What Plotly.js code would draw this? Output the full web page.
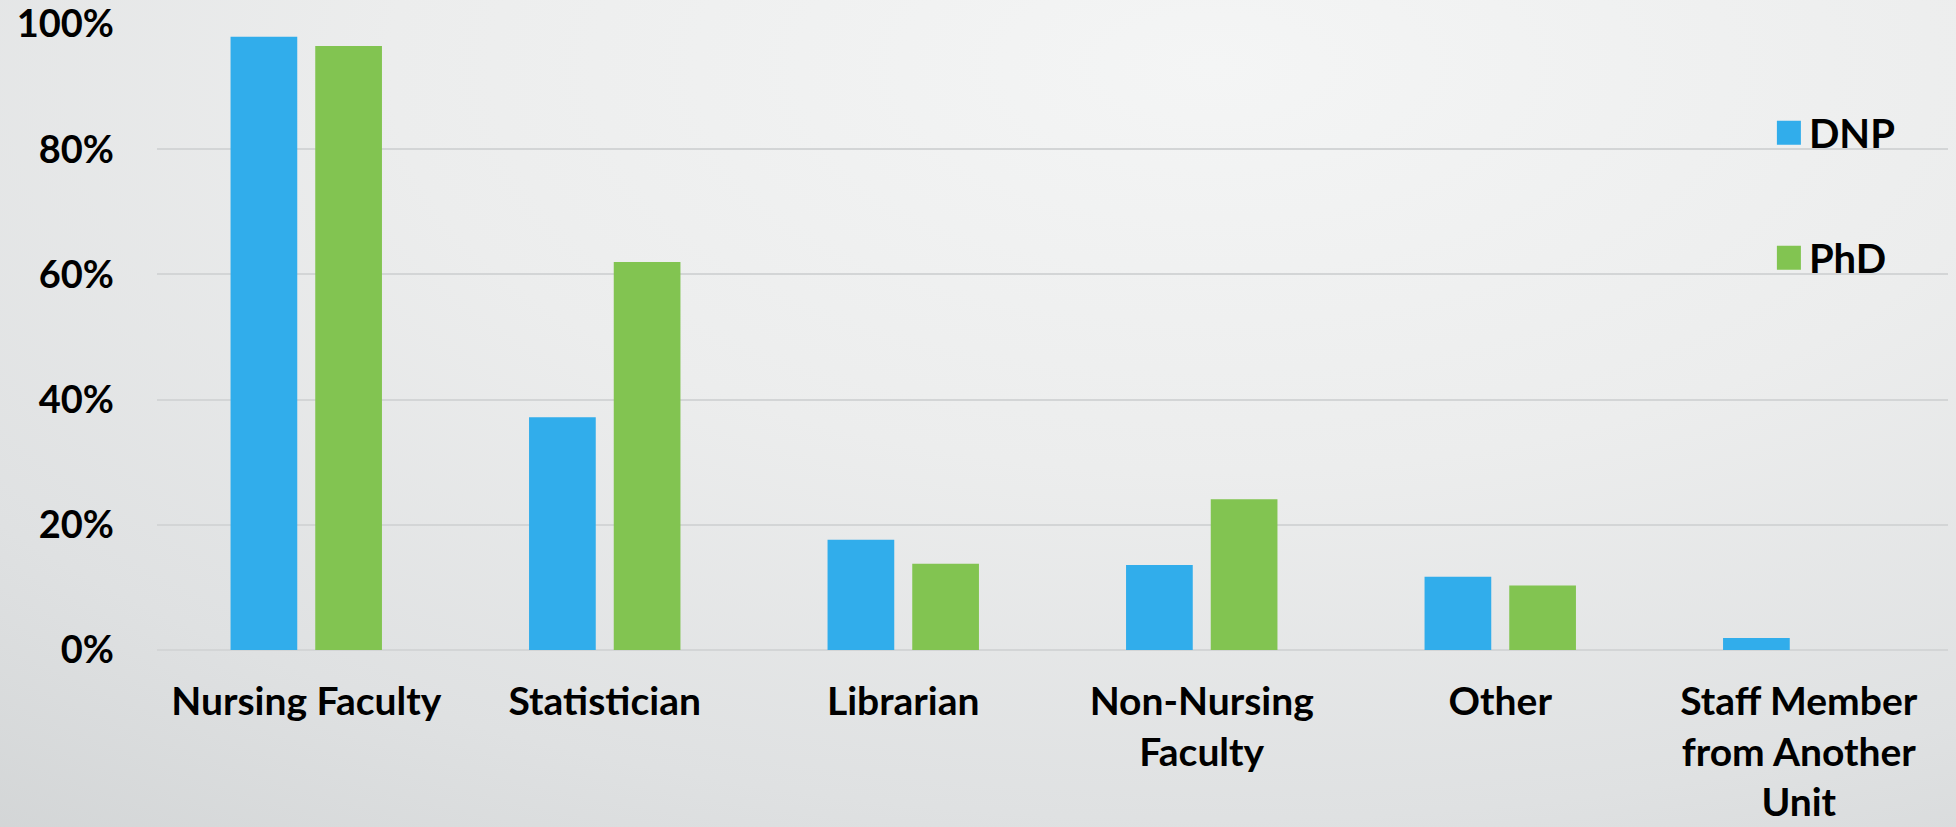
<!DOCTYPE html>
<html>
<head>
<meta charset="utf-8">
<script src="https://cdn.plot.ly/plotly-3.0.1.min.js"></script>
<style>
  html, body { margin: 0; padding: 0; width: 1956px; height: 827px; overflow: hidden; }
  body { background: radial-gradient(ellipse 120% 140% at 62% 8%, #f4f5f5 0%, #eceded 35%, #dfe1e2 65%, #c9cccd 100%); }
  #chart { width: 1956px; height: 827px; }
</style>
</head>
<body>
<div id="chart"></div>
<script>
// Categories (x axis tick labels)
const categories = [
  "Nursing Faculty",
  "Statistician",
  "Librarian",
  "Non-Nursing<br>Faculty",
  "Other",
  "Staff Member<br>from Another<br>Unit"
];
// Series names
const seriesNames = ["DNP", "PhD"];
// Series values (percent)
const dnpValues = [98.0, 37.2, 17.6, 13.6, 11.7, 1.9];
const phdValues = [96.5, 62.0, 13.8, 24.1, 10.3, 0];
// Y ticks
const yTicks = [0, 20, 40, 60, 80, 100];
const yTickLabels = ["0%", "20%", "40%", "60%", "80%", "100%"];

const colors = ["#31ADEB", "#82C451"];
const FONT = "Lato, 'Open Sans', sans-serif";

const traces = [
  { type: "bar", name: seriesNames[0], x: categories, y: dnpValues,
    marker: { color: colors[0] }, legendgroup: "a", hoverinfo: "skip" },
  { type: "bar", name: seriesNames[1], x: categories, y: phdValues,
    marker: { color: colors[1] }, legendgroup: "b", hoverinfo: "skip" }
];

const layout = {
  width: 1956, height: 827,
  paper_bgcolor: "rgba(0,0,0,0)",
  plot_bgcolor: "rgba(0,0,0,0)",
  margin: { l: 157, r: 8, t: 24, b: 177 },
  barmode: "group",
  bargap: 0.4325,
  bargroupgap: 0.2125,
  font: { family: FONT, color: "#000", size: 40, weight: 700 },
  xaxis: {
    type: "category",
    tickfont: { family: FONT, size: 39, color: "#000", weight: 700 },
    showgrid: false, showline: false, zeroline: false, ticks: "",
    ticklabelstandoff: 25
  },
  yaxis: {
    range: [0, 100.02],
    tickmode: "array",
    tickvals: yTicks,
    ticktext: yTickLabels,
    ticklabeloverflow: "allow",
    tickfont: { family: FONT, size: 38, color: "#000", weight: 700 },
    showgrid: true, gridcolor: "#d3d5d6", gridwidth: 2,
    zeroline: true, zerolinecolor: "#d3d5d6", zerolinewidth: 2,
    showline: false, ticks: "",
    ticklabelstandoff: 42
  },
  showlegend: true,
  legend: {
    x: 0.9, y: 0.878, xanchor: "left", yanchor: "top",
    bgcolor: "rgba(0,0,0,0)",
    font: { family: FONT, size: 40, color: "#000", weight: 700 },
    tracegroupgap: 70,
    traceorder: "grouped",
    itemclick: false, itemdoubleclick: false
  }
};

function enlargeLegendSymbols() {
  document.querySelectorAll("#chart .legend .legendpoints path").forEach(p => {
    p.setAttribute("d", "M12,12H-12V-12H12Z");
  });
}

Plotly.newPlot("chart", traces, layout, { staticPlot: true, displayModeBar: false }).then(gd => {
  enlargeLegendSymbols();
  gd.on("plotly_afterplot", enlargeLegendSymbols);
});
</script>
</body>
</html>
